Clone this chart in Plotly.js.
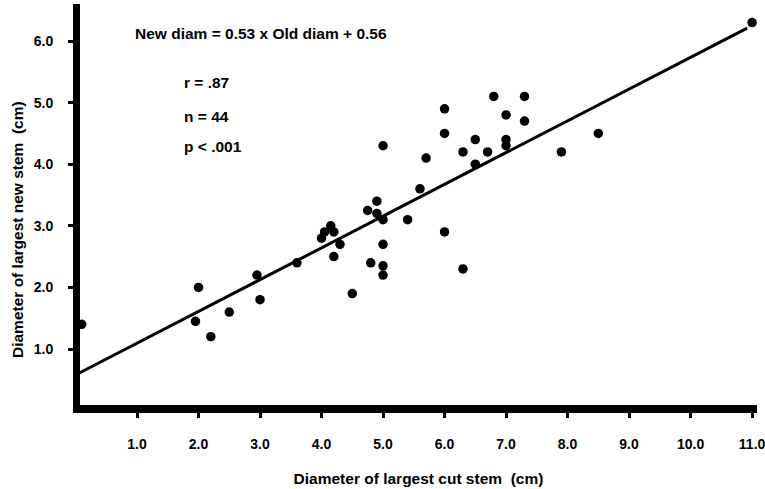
<!DOCTYPE html>
<html>
<head>
<meta charset="utf-8">
<script src="https://cdn.plot.ly/plotly-3.0.1.min.js"></script>
<style>html,body{margin:0;padding:0;background:#fff;}#chart{width:765px;height:489px;}</style>
</head>
<body>
<div id="chart"></div>
<script>
// Diameter of largest cut stem (cm)
var oldDiam = [0.1, 1.95, 2.0, 2.2, 2.5, 2.95, 3.0, 3.6, 4.0, 4.05, 4.15, 4.2, 4.2, 4.3, 4.5,
  4.75, 4.8, 4.9, 4.9, 5.0, 5.0, 5.0, 5.0, 5.0, 5.4, 5.6, 5.7, 6.0, 6.0, 6.0,
  6.3, 6.3, 6.5, 6.5, 6.7, 6.8, 7.0, 7.0, 7.0, 7.3, 7.3, 7.9, 8.5, 11.0];
// Diameter of largest new stem (cm)
var newDiam = [1.4, 1.45, 2.0, 1.2, 1.6, 2.2, 1.8, 2.4, 2.8, 2.9, 3.0, 2.9, 2.5, 2.7, 1.9,
  3.25, 2.4, 3.4, 3.2, 3.1, 4.3, 2.7, 2.35, 2.2, 3.1, 3.6, 4.1, 4.9, 4.5, 2.9,
  4.2, 2.3, 4.4, 4.0, 4.2, 5.1, 4.8, 4.4, 4.3, 5.1, 4.7, 4.2, 4.5, 6.3];
// Regression line endpoints as drawn
var fitX = [0.06, 10.92];
var fitY = [0.61, 6.21];
var xTicks = [1, 2, 3, 4, 5, 6, 7, 8, 9, 10, 11];
var yTicks = [1, 2, 3, 4, 5, 6];
var equationText = 'New diam = 0.53 x Old diam + 0.56';
var statsText = ['r = .87', 'n = 44', 'p < .001'];
var statsY = [5.32, 4.78, 4.29];

var fontFam = '"Liberation Sans", Arial, Helvetica, sans-serif';
var txtSize = 15.5;

var traces = [
  {x: fitX, y: fitY, mode: 'lines', type: 'scatter', line: {color: '#000', width: 3}, hoverinfo: 'skip'},
  {x: oldDiam, y: newDiam, mode: 'markers', type: 'scatter', marker: {color: '#000', size: 9.5}}
];

var annotations = [
  {x: 0.93, y: 6.13, xref: 'x', yref: 'y', text: '<b>' + equationText + '</b>', showarrow: false, xanchor: 'left', yanchor: 'middle', font: {family: fontFam, size: txtSize, color: '#000'}}
];
for (var i = 0; i < statsText.length; i++) {
  annotations.push({x: 1.73, y: statsY[i], xref: 'x', yref: 'y', text: '<b>' + statsText[i] + '</b>', showarrow: false, xanchor: 'left', yanchor: 'middle', font: {family: fontFam, size: txtSize, color: '#000'}});
}
var yTitle = {xref: 'paper', yref: 'paper', text: '<b>Diameter of largest new stem  (cm)</b>', textangle: -90, showarrow: false, xanchor: 'center', yanchor: 'middle', font: {family: fontFam, size: txtSize, color: '#000'}};
annotations.push(yTitle);

var layout = {
  width: 765, height: 489,
  margin: {l: 80, r: 8, t: 4, b: 84},
  paper_bgcolor: '#fff', plot_bgcolor: '#fff',
  showlegend: false,
  font: {family: fontFam, color: '#000'},
  xaxis: {
    range: [0.073, 11.08], tickvals: xTicks, tickformat: '.1f',
    ticks: 'outside', ticklen: 5, tickwidth: 3, tickcolor: '#000',
    showline: true, linewidth: 8, linecolor: '#000',
    showgrid: false, zeroline: false,
    tickfont: {family: fontFam, size: 14, color: '#000', weight: 'bold'},
    ticklabelstandoff: 14, ticklabeloverflow: 'allow',
    title: {text: '<b>Diameter of largest cut stem  (cm)</b>', font: {family: fontFam, size: txtSize, color: '#000'}, standoff: 25}
  },
  yaxis: {
    range: [0.091, 6.601], tickvals: yTicks, tickformat: '.1f',
    ticks: 'outside', ticklen: 5, tickwidth: 3, tickcolor: '#000',
    showline: true, linewidth: 7, linecolor: '#000',
    showgrid: false, zeroline: false,
    tickfont: {family: fontFam, size: 14, color: '#000', weight: 'bold'},
    ticklabelstandoff: 12
  },
  annotations: annotations
};

// place the y title at its pixel position (x=17, y=230)
var plotH = layout.height - layout.margin.t - layout.margin.b;
var plotW = layout.width - layout.margin.l - layout.margin.r;
yTitle.x = (17 - layout.margin.l) / plotW;
yTitle.y = (layout.height - layout.margin.b - 230) / plotH;

Plotly.newPlot('chart', traces, layout, {displayModeBar: false, staticPlot: true});
</script>
</body>
</html>
